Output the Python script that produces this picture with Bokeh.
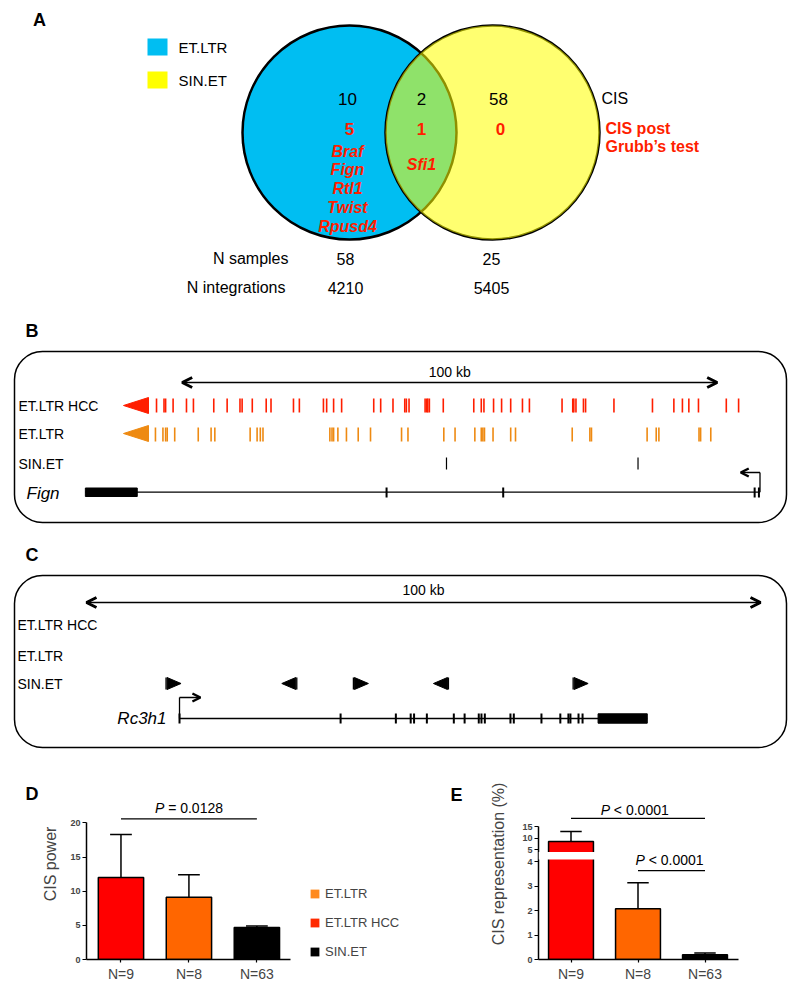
import numpy as np
from bokeh.plotting import figure
from bokeh.models import (Range1d, BoxAnnotation, Arrow, OpenHead, FixedTicker,
                          Legend, LegendItem)
from bokeh.layouts import column, row
from bokeh.embed import file_html
from bokeh.resources import INLINE
from bokeh.core.properties import value

SANS = "Liberation Sans"
RED = "#FF1E00"
ORANGE = "#EE8A12"
BAR_RED = "#FF0000"
BAR_ORANGE = "#FF6600"
W = 792

# ---------------- Panel A : CIS overlap ----------------
venn_sets = ["ET.LTR", "SIN.ET"]
venn_fill = ["#00BEF2", "#FFFF00"]
cis_counts = ["10", "2", "58"]            # ET.LTR only, shared, SIN.ET only
cis_post_grubbs = ["5", "1", "0"]
cis_genes_etltr_only = ["Braf", "Fign", "Rtl1", "Twist", "Rpusd4"]
cis_genes_shared = ["Sfi1"]
n_samples = ["58", "25"]
n_integrations = ["4210", "5405"]

# ---------------- Panel B : Fign locus (kb from start of scale bar) ----------------
scale_kb = 100
fign_etltr_hcc_kb = [-4.8, -3.4, -3.1, -1.7, 0.8, 2.1, 5.9, 8.4, 10.8, 11.2, 13.1, 15.7,
                     16.6, 20.8, 21.9, 26.4, 27.0, 28.3, 29.8, 35.8, 37.1, 39.4, 41.6, 41.9,
                     42.4, 45.4, 45.7, 45.9, 46.2, 48.8, 54.5, 55.9, 56.4, 58.2, 59.7, 61.4,
                     63.6, 64.9, 71.0, 73.0, 73.2, 73.6, 75.0, 75.4, 80.7, 87.9, 91.9, 93.5,
                     94.7, 96.5, 101.7, 104.0]
fign_etltr_kb = [-5.0, -3.6, -3.1, -2.8, -1.4, 3.0, 5.4, 6.1, 12.7, 14.0, 14.6, 15.1, 27.6,
                 28.0, 28.3, 29.1, 30.7, 32.9, 35.2, 41.0, 42.2, 48.9, 51.0, 54.7, 55.9,
                 56.2, 56.5, 58.1, 61.4, 62.3, 72.9, 76.2, 76.5, 86.9, 88.6, 89.1, 96.6,
                 96.9, 98.8]
fign_sinet_kb = [49.4, 85.2]
fign_exons_kb = [38.2, 60.0, 107.0, 107.8]
fign_utr_kb = [-18.1, -8.4]
fign_span_kb = [-18.1, 108.0]
fign_tss_kb = 108.0

# ---------------- Panel C : Rc3h1 locus ----------------
rc3h1_sinet_kb = [11.8, 31.2, 39.6, 53.7, 72.2]
rc3h1_sinet_strand = [1, -1, 1, -1, 1]
rc3h1_exons_kb = [13.8, 37.7, 45.9, 48.1, 48.6, 50.5, 54.5, 56.1, 58.2, 58.6, 59.1, 62.9,
                  63.4, 67.5, 70.3, 71.5, 71.8, 73.0, 73.6]
rc3h1_utr_kb = [75.9, 83.2]
rc3h1_span_kb = [13.8, 83.2]
rc3h1_tss_kb = 13.8

# ---------------- Panels D / E ----------------
groups = ["N=9", "N=8", "N=63"]
bar_colors = [BAR_RED, BAR_ORANGE, "black"]
cis_power = [12.0, 9.1, 4.7]
cis_power_err = [6.3, 3.3, 0.2]
cis_repr = [8.5, 2.07, 0.19]
cis_repr_err = [4.3, 1.06, 0.08]
legend_labels = ["ET.LTR", "ET.LTR HCC", "SIN.ET"]
legend_colors = ["#FF8A1E", "#FF2A00", "black"]


def blank(w, h, xr, yr):
    p = figure(width=w, height=h, x_range=xr, y_range=yr, output_backend="svg",
               toolbar_location=None, x_axis_type=None, y_axis_type=None, min_border=0)
    p.outline_line_color = None
    return p


def txt(p, x, y, t, size, color="black", align="left", style="normal", **kw):
    p.text(x=x, y=y, text=t, text_font=value(SANS), text_font_size=size,
           text_color=color, text_align=align, text_baseline="middle",
           text_font_style=style, **kw)


def pval(p, xc, yc, rest, size="14px", **kw):
    # italic "P" followed by the rest of the statement, centred on xc
    p.text(x=[xc], y=[yc], text=["P"], text_font=value(SANS), text_font_size=size,
           text_font_style="italic", text_align="left", text_baseline="middle",
           x_offset=-34, **kw)
    p.text(x=[xc], y=[yc], text=[rest], text_font=value(SANS), text_font_size=size,
           text_align="left", text_baseline="middle", x_offset=-20.8, **kw)


# ======================= Panel A =======================
pA = blank(W, 320, Range1d(0, W), Range1d(320, 0))
cx = [349, 492]
cy = 132
rad = 107
pA.ellipse(x=[cx[0]], y=[cy], width=2 * rad, height=2 * rad, fill_color=venn_fill[0],
           line_color="black", line_width=2.5)
pA.ellipse(x=[cx[1]], y=[cy], width=2 * rad, height=2 * rad, fill_color=None,
           line_color="black", line_width=2.5)
pA.ellipse(x=[cx[1]], y=[cy], width=2 * rad, height=2 * rad, fill_color=venn_fill[1],
           fill_alpha=0.56, line_color=None)
pA.rect(x=[157, 157], y=[46.5, 79.5], width=20, height=17, fill_color=venn_fill,
        line_color=None)
txt(pA, [178, 178], [46.5, 79.5], venn_sets, "15px")
txt(pA, [39], [19], ["A"], "18px", style="bold", align="center")
txt(pA, [347, 421, 498], [98] * 3, cis_counts, "17px", align="center")
txt(pA, [601], [98], ["CIS"], "16px")
txt(pA, [349, 421, 500], [128] * 3, cis_post_grubbs, "17px", color=RED, align="center",
    style="bold")
txt(pA, [605, 605], [128, 146], ["CIS post", "Grubb\u2019s test"], "16px", color=RED,
    style="bold")
gy = [150.7 + 18.75 * i for i in range(len(cis_genes_etltr_only))]
txt(pA, [347] * len(gy), gy, cis_genes_etltr_only, "16px", color=RED, align="center",
    style="bold italic")
txt(pA, [421], [164], cis_genes_shared, "16px", color=RED, align="center",
    style="bold italic")
txt(pA, [288, 285], [258, 287], ["N samples", "N integrations"], "16px", align="right")
txt(pA, [345, 491], [258, 258], n_samples, "16px", align="center")
txt(pA, [345, 491], [287, 287], n_integrations, "16px", align="center")


# ======================= Panel B =======================
def kb_b(px):
    return (px - 181.7) / 5.35


pB = blank(W, 220, Range1d(kb_b(0), kb_b(W)), Range1d(540, 320))
pB.add_layout(BoxAnnotation(left=kb_b(14), right=kb_b(786), top=351, bottom=522,
                            fill_alpha=0, line_color="black", line_alpha=1,
                            line_width=1.5, border_radius=28))
txt(pB, [kb_b(25)], [330], ["B"], "18px", style="bold")
pB.add_layout(Arrow(x_start=0, x_end=scale_kb, y_start=382, y_end=382, line_width=1.5,
                    start=OpenHead(size=10, line_width=3),
                    end=OpenHead(size=10, line_width=3)))
txt(pB, [scale_kb / 2], [371], [f"{scale_kb} kb"], "14px", align="center")
txt(pB, [kb_b(18)] * 3, [405, 433, 463], ["ET.LTR HCC", "ET.LTR", "SIN.ET"], "14px")
pB.patch(x=[kb_b(123), kb_b(148), kb_b(148)], y=[405, 397, 413], color=RED)
pB.patch(x=[kb_b(123), kb_b(148), kb_b(148)], y=[433, 425, 441], color=ORANGE)
pB.segment(x0=fign_etltr_hcc_kb, x1=fign_etltr_hcc_kb, y0=398, y1=412, color=RED,
           line_width=1.6)
pB.segment(x0=fign_etltr_kb, x1=fign_etltr_kb, y0=427, y1=441, color=ORANGE,
           line_width=1.6)
pB.segment(x0=fign_sinet_kb, x1=fign_sinet_kb, y0=457, y1=469, color="black",
           line_width=1.2)
pB.segment(x0=[fign_span_kb[0]], x1=[fign_span_kb[1]], y0=491.7, y1=491.7,
           color="black", line_width=1.3)
pB.quad(left=[fign_utr_kb[0]], right=[fign_utr_kb[1]], top=487.5, bottom=496,
        color="black")
pB.segment(x0=fign_exons_kb, x1=fign_exons_kb, y0=487, y1=497, color="black",
           line_width=2)
pB.segment(x0=[fign_tss_kb], x1=[fign_tss_kb], y0=491.7, y1=472, color="black",
           line_width=1.3)
pB.add_layout(Arrow(x_start=fign_tss_kb, x_end=fign_tss_kb - 3.6, y_start=472,
                    y_end=472, line_width=1.3, start=None,
                    end=OpenHead(size=8, line_width=2.5)))
txt(pB, [kb_b(26)], [493], ["Fign"], "17px", style="italic")


# ======================= Panel C =======================
def kb_c(px):
    return (px - 86.0) / 6.74


pC = blank(W, 228, Range1d(kb_c(0), kb_c(W)), Range1d(768, 540))
pC.add_layout(BoxAnnotation(left=kb_c(14), right=kb_c(786), top=575, bottom=747,
                            fill_alpha=0, line_color="black", line_alpha=1,
                            line_width=1.5, border_radius=28))
txt(pC, [kb_c(25)], [554], ["C"], "18px", style="bold")
pC.add_layout(Arrow(x_start=0, x_end=scale_kb, y_start=602, y_end=602, line_width=1.5,
                    start=OpenHead(size=10, line_width=3),
                    end=OpenHead(size=10, line_width=3)))
txt(pC, [scale_kb / 2], [589], [f"{scale_kb} kb"], "14px", align="center")
txt(pC, [kb_c(17)] * 3, [624, 655, 683], ["ET.LTR HCC", "ET.LTR", "SIN.ET"], "14px")
tri_w = 14 / 6.74
gap = 1 / 6.74
tri_xs, tri_ys = [], []
for pos, s in zip(rc3h1_sinet_kb, rc3h1_sinet_strand):
    base = pos + s * gap
    tri_xs.append([base, base, base + s * tri_w])
    tri_ys.append([677, 689, 683])
pC.patches(xs=tri_xs, ys=tri_ys, color="black")
pC.segment(x0=rc3h1_sinet_kb, x1=rc3h1_sinet_kb, y0=677, y1=689, color="black",
           line_width=1.3)
pC.segment(x0=[rc3h1_span_kb[0]], x1=[rc3h1_span_kb[1]], y0=718, y1=718,
           color="black", line_width=1.3)
pC.quad(left=[rc3h1_utr_kb[0]], right=[rc3h1_utr_kb[1]], top=713.3, bottom=722.7,
        color="black")
pC.segment(x0=rc3h1_exons_kb, x1=rc3h1_exons_kb, y0=713, y1=723, color="black",
           line_width=2)
pC.segment(x0=[rc3h1_tss_kb], x1=[rc3h1_tss_kb], y0=718, y1=697, color="black",
           line_width=1.3)
pC.add_layout(Arrow(x_start=rc3h1_tss_kb, x_end=rc3h1_tss_kb + 3.1, y_start=697,
                    y_end=697, line_width=1.3, start=None,
                    end=OpenHead(size=8, line_width=2.5)))
txt(pC, [kb_c(166)], [718], ["Rc3h1"], "17px", align="right", style="italic")

# ======================= bottom row =======================
ROW_H = 222
xs = np.arange(1, len(groups) + 1)


def style_bar_fig(p, groups, xs, xend):
    p.xgrid.visible = False
    p.ygrid.visible = False
    p.outline_line_color = None
    p.xaxis.ticker = FixedTicker(ticks=[int(v) for v in xs])
    p.xaxis.major_label_overrides = {int(v): g for v, g in zip(xs, groups)}
    p.xaxis.bounds = (p.x_range.start, xend)
    for ax in (p.xaxis[0], p.yaxis[0]):
        ax.axis_line_width = 1.5
        ax.major_tick_line_width = 1.2
        ax.major_tick_in = 0
        ax.minor_tick_line_color = None
    p.xaxis.major_tick_out = 3
    p.xaxis.major_label_standoff = 3
    p.xaxis.major_label_text_font = SANS
    p.xaxis.major_label_text_font_size = "14px"
    p.yaxis.major_tick_out = 4
    p.yaxis.major_label_standoff = 2
    p.yaxis.major_label_text_font = SANS
    p.yaxis.major_label_text_font_size = "9px"
    p.yaxis.major_label_text_font_style = "bold"
    p.yaxis.axis_label_text_font = SANS
    p.yaxis.axis_label_text_font_size = "16px"
    p.yaxis.axis_label_text_font_style = "normal"


# panel letters D and E (small blank strips beside the plots)
pDL = blank(39, ROW_H, Range1d(0, 39), Range1d(768 + ROW_H, 768))
txt(pDL, [25], [798], ["D"], "18px", style="bold")
pEL = blank(58, ROW_H, Range1d(412, 470), Range1d(768 + ROW_H, 768))
txt(pEL, [450], [799], ["E"], "18px", style="bold")

# ---- D ----
pD = figure(width=373, height=ROW_H, x_range=Range1d(1 - 35 / 69, 1 + 296 / 69),
            y_range=Range1d(0, 193 / 6.9), output_backend="svg", toolbar_location=None,
            min_border_left=42, min_border_right=0, min_border_top=0,
            min_border_bottom=ROW_H - 193)
style_bar_fig(pD, groups, xs, 1 + 172 / 69)
pD.yaxis.ticker = FixedTicker(ticks=[0, 5, 10, 15, 20])
pD.yaxis.bounds = (0, 20)
pD.yaxis.axis_label = "CIS power"
pD.yaxis.axis_label_standoff = 8
pD.vbar(x=xs, top=cis_power, bottom=0, width=0.667, fill_color=bar_colors,
        line_color="black", line_width=1.5)
top_d = np.array(cis_power) + np.array(cis_power_err)
pD.segment(x0=xs, x1=xs, y0=cis_power, y1=top_d, color="black", line_width=1.5)
pD.segment(x0=xs - 0.16, x1=xs + 0.16, y0=top_d, y1=top_d, color="black",
           line_width=1.5)
pD.segment(x0=[xs[0]], x1=[xs[2]], y0=[20.6], y1=[20.6], color="black", line_width=1.3)
pval(pD, 2, 22.2, "= 0.0128")
leg_r = [pD.quad(left=[np.nan], right=[np.nan], top=[np.nan], bottom=[np.nan],
                 fill_color=c, line_color=None) for c in legend_colors]
legend = Legend(items=[LegendItem(label=l, renderers=[r], index=0) for l, r in
                       zip(legend_labels, leg_r)],
                location=(223, 0), orientation="vertical", glyph_width=11,
                glyph_height=11, label_standoff=5, spacing=14, padding=0, margin=0,
                border_line_color=None, background_fill_alpha=0,
                label_text_font=SANS, label_text_font_size="13px", label_height=11)
pD.add_layout(legend)

# ---- E (broken axis) ----
L_PX = 24.5   # px per unit, lower segment
U_PX = 2.3    # px per unit, upper segment
frame_h = 191
lower = Range1d(0, frame_h / L_PX)
u0 = 5 - 110 / U_PX
upper = Range1d(u0, u0 + frame_h / U_PX)


def to_main(u):
    return (u - upper.start) / (upper.end - upper.start) * (lower.end - lower.start) + lower.start


pE = figure(width=322, height=ROW_H, x_range=Range1d(1 - 32.5 / 67, 1 + 221.5 / 67),
            y_range=lower, output_backend="svg", toolbar_location=None,
            min_border_left=68, min_border_right=0, min_border_top=0,
            min_border_bottom=ROW_H - frame_h)
pE.extra_y_ranges = {"upper": upper}
style_bar_fig(pE, groups, xs, 1 + 167.5 / 67)
upper_ticks = [5, 10, 15]
ticks_e = [0, 1, 2, 3, 4] + [to_main(u) for u in upper_ticks]
pE.yaxis.ticker = FixedTicker(ticks=ticks_e)
pE.yaxis.major_label_overrides = {to_main(u): str(u) for u in upper_ticks}
pE.yaxis.bounds = (0, to_main(15))
pE.yaxis.axis_label = "CIS representation (%)"
pE.yaxis.axis_label_standoff = 12

LOW_CUT = 4.15
UP_CUT = 3.2
repr_arr = np.array(cis_repr)
err_arr = np.array(cis_repr_err)
colors_arr = np.array(bar_colors)
pE.vbar(x=xs, top=np.minimum(repr_arr, LOW_CUT), bottom=0, width=0.67,
        fill_color=bar_colors, line_color="black", line_width=1.5)
big = repr_arr > LOW_CUT
pE.vbar(x=xs[big], top=repr_arr[big], bottom=UP_CUT, width=0.67,
        fill_color=list(colors_arr[big]), line_color="black", line_width=1.5,
        y_range_name="upper")
small = ~big
tops = repr_arr + err_arr
pE.segment(x0=xs[small], x1=xs[small], y0=repr_arr[small], y1=tops[small],
           color="black", line_width=1.5)
pE.segment(x0=xs[small] - 0.16, x1=xs[small] + 0.16, y0=tops[small], y1=tops[small],
           color="black", line_width=1.5)
pE.segment(x0=xs[big], x1=xs[big], y0=repr_arr[big], y1=tops[big], color="black",
           line_width=1.5, y_range_name="upper")
pE.segment(x0=xs[big] - 0.16, x1=xs[big] + 0.16, y0=tops[big], y1=tops[big],
           color="black", line_width=1.5, y_range_name="upper")
pE.add_layout(BoxAnnotation(bottom=4.08, top=4.39, right=1.5, fill_color="white",
                            fill_alpha=1, line_color=None))
pE.segment(x0=[xs[0]], x1=[xs[2]], y0=[18.5], y1=[18.5], color="black", line_width=1.3,
           y_range_name="upper")
pE.segment(x0=[xs[1]], x1=[xs[2]], y0=[3.63], y1=[3.63], color="black", line_width=1.3)
pval(pE, 1.95, 22.0, "< 0.0001", y_range_name="upper")
pval(pE, 2.47, 4.05, "< 0.0001")

layout = column(pA, pB, pC, row(pDL, pD, pEL, pE, spacing=0), spacing=0)
open("out.html", "w").write(file_html(layout, INLINE))
